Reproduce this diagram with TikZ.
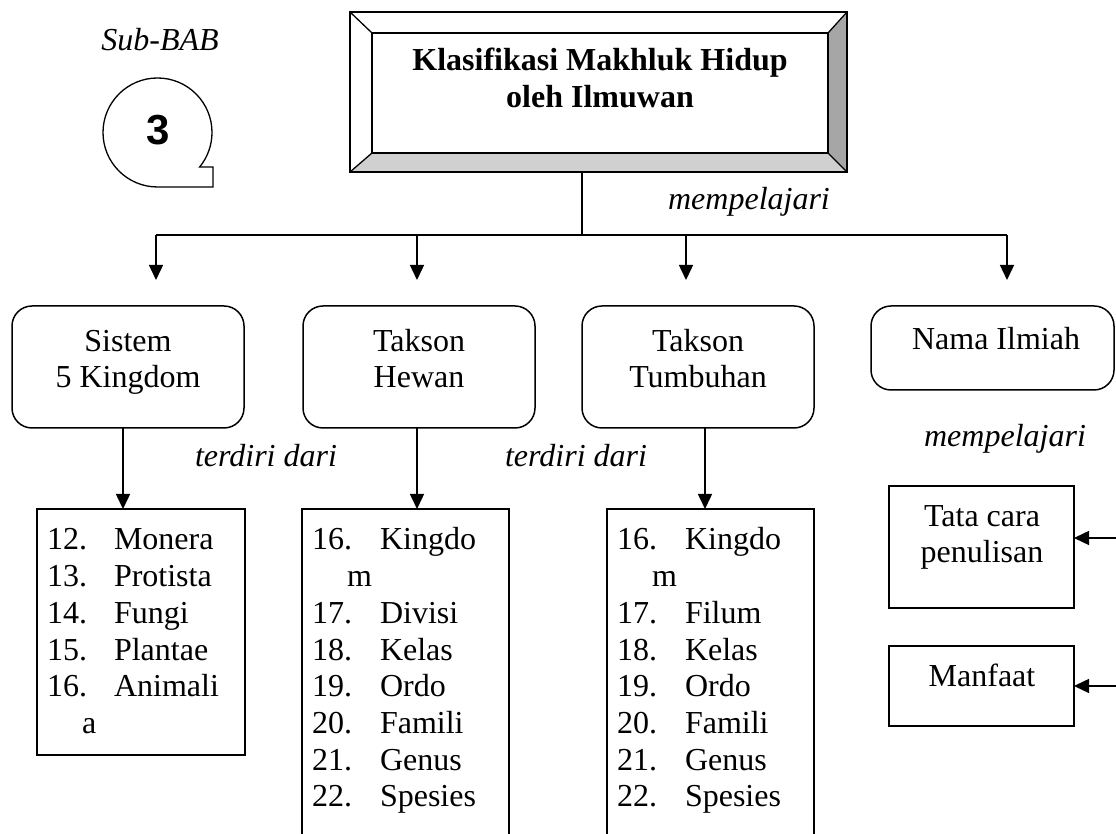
\documentclass[tikz,border=0pt]{standalone}
\usepackage{fontspec}
\setmainfont{Liberation Serif}
\newfontfamily\badgefont{Liberation Sans}
\usetikzlibrary{arrows.meta,calc}
\definecolor{bevdark}{HTML}{A6A6A6}
\definecolor{bevlight}{HTML}{D0D0D0}
\begin{document}
\begin{tikzpicture}[x=1pt,y=1pt,
  every node/.style={inner sep=0pt, outer sep=0pt},
  lbl/.style={font=\fontsize{32}{36.8}\selectfont},
  ital/.style={font=\fontsize{32}{36.8}\selectfont\itshape},
  boldlbl/.style={font=\fontsize{32}{36.8}\selectfont\bfseries},
  rbox/.style={draw, line width=1.5pt, rounded corners=20pt},
  sbox/.style={draw, line width=1.5pt},
  conn/.style={line width=1.5pt},
  arr/.style={line width=1.5pt, -{Triangle[length=15pt,width=14pt]}},
]
\useasboundingbox (0,0) rectangle (1116,834);
\clip (0,0) rectangle (1116,834);

% ---------- badge ----------
\node[ital, anchor=base] (subbab) at (160,783) {Sub-BAB};
\draw[line width=1.3pt] (157.5,647) arc[start angle=-90,end angle=-399.3,radius=54.5]
  -- (213,667) -- (213,647) -- cycle;
\node[font=\badgefont\bfseries\fontsize{42}{46}\selectfont] (num) at (158.5,703.5) {3};

% ---------- title box ----------
\node[minimum width=497pt, minimum height=160pt] (top) at (598.5,742) {};
\node[minimum width=456pt, minimum height=120pt] (topin) at (600,741) {};
\fill[white] (top.north west) -- (top.north east) -- (topin.north east) -- (topin.north west) -- cycle;
\fill[white] (top.north west) -- (topin.north west) -- (topin.south west) -- (top.south west) -- cycle;
\fill[bevdark] (top.north east) -- (top.south east) -- (topin.south east) -- (topin.north east) -- cycle;
\fill[bevlight] (top.south west) -- (top.south east) -- (topin.south east) -- (topin.south west) -- cycle;
\draw[line width=1.8pt] (top.north west) rectangle (top.south east);
\draw[line width=1.8pt] (topin.north west) rectangle (topin.south east);
\draw[line width=1.3pt] (top.north west) -- (topin.north west)
  (top.north east) -- (topin.north east)
  (top.south west) -- (topin.south west)
  (top.south east) -- (topin.south east);
\node[boldlbl, anchor=base] (title1) at (600,763) {Klasifikasi Makhluk Hidup};
\node[boldlbl, anchor=base] (title2) at (600,726) {oleh Ilmuwan};

% ---------- level boxes ----------
\node[rbox, minimum width=232pt, minimum height=122pt] (b1) at (128,467) {};
\node[rbox, minimum width=232pt, minimum height=122pt] (b2) at (419,467) {};
\node[rbox, minimum width=232pt, minimum height=122pt] (b3) at (698,467) {};
\node[rbox, minimum width=243pt, minimum height=84pt] (b4) at (992.5,486) {};
\node[lbl, anchor=base] (t1a) at (128,482) {Sistem};
\node[lbl, anchor=base] (t1b) at (128,446) {5 Kingdom};
\node[lbl, anchor=base] (t2a) at (419,482) {Takson};
\node[lbl, anchor=base] (t2b) at (419,446) {Hewan};
\node[lbl, anchor=base] (t3a) at (698,482) {Takson};
\node[lbl, anchor=base] (t3b) at (698,446) {Tumbuhan};
\node[lbl, anchor=base] (t4a) at (996,484) {Nama Ilmiah};

% ---------- connectors from title ----------
\node[ital, anchor=base] (lab1) at (749,624) {mempelajari};
\coordinate (hub) at (582,599);
\coordinate (a1) at (156,599);
\coordinate (a2) at (417,599);
\coordinate (a3) at (686,599);
\coordinate (a4) at (1007,599);
\draw[conn] (top.south -| hub) -- (hub);
\draw[conn] (a1) -- (a4);
\draw[arr, shorten >=26pt] (a1) -- (a1 |- b1.north);
\draw[arr, shorten >=26pt] (a2) -- (a2 |- b2.north);
\draw[arr, shorten >=26pt] (a3) -- (a3 |- b3.north);
\draw[arr, shorten >=26pt] (a4) -- (a4 |- b4.north);

% ---------- lists ----------
\node[sbox, minimum width=208pt, minimum height=246pt] (l1) at (141,202) {};
\node[sbox, minimum width=207pt, minimum height=345pt] (l2) at (405.5,152.5) {};
\node[sbox, minimum width=207pt, minimum height=345pt] (l3) at (710.5,152.5) {};

\coordinate (d1) at (123,400);
\coordinate (d2) at (417,400);
\coordinate (d3) at (705,400);
\draw[arr] (b1.south -| d1) -- (l1.north -| d1);
\draw[arr] (b2.south -| d2) -- (l2.north -| d2);
\draw[arr] (b3.south -| d3) -- (l3.north -| d3);
\node[ital, anchor=base] (lab2) at (266,367) {terdiri dari};
\node[ital, anchor=base] (lab3) at (576,367) {terdiri dari};

\foreach \r/\n/\t in {0/12./Monera,1/13./Protista,2/14./Fungi,3/15./Plantae,4/16./Animali}{
  \node[lbl, anchor=base west] (l1n\r) at (47,{284-36.7*\r}) {\n};
  \node[lbl, anchor=base west] (l1t\r) at (114,{284-36.7*\r}) {\t};
}
\node[lbl, anchor=base west] (l1c) at (82,{284-36.7*5}) {a};

\foreach \r/\n/\t in {0/16./Kingdo,2/17./Divisi,3/18./Kelas,4/19./Ordo,5/20./Famili,6/21./Genus,7/22./Spesies}{
  \node[lbl, anchor=base west] (l2n\r) at (312,{284-36.7*\r}) {\n};
  \node[lbl, anchor=base west] (l2t\r) at (380,{284-36.7*\r}) {\t};
}
\node[lbl, anchor=base west] (l2c) at (347,{284-36.7}) {m};

\foreach \r/\n/\t in {0/16./Kingdo,2/17./Filum,3/18./Kelas,4/19./Ordo,5/20./Famili,6/21./Genus,7/22./Spesies}{
  \node[lbl, anchor=base west] (l3n\r) at (617,{284-36.7*\r}) {\n};
  \node[lbl, anchor=base west] (l3t\r) at (685,{284-36.7*\r}) {\t};
}
\node[lbl, anchor=base west] (l3c) at (652,{284-36.7}) {m};

% ---------- right column ----------
\node[ital, anchor=base] (lab4) at (1005,387) {mempelajari};
\node[sbox, minimum width=185pt, minimum height=122pt] (tc) at (981.5,287) {};
\node[lbl, anchor=base] (tca) at (982,307) {Tata cara};
\node[lbl, anchor=base] (tcb) at (982,271) {penulisan};
\node[sbox, minimum width=185pt, minimum height=80pt] (mf) at (981.5,148) {};
\node[lbl, anchor=base] (mfa) at (982,147) {Manfaat};
\coordinate (e1) at (1116,296);
\coordinate (e2) at (1116,148);
\draw[arr] (e1) -- (e1 -| tc.east);
\draw[arr] (e2) -- (e2 -| mf.east);
\end{tikzpicture}
\end{document}
